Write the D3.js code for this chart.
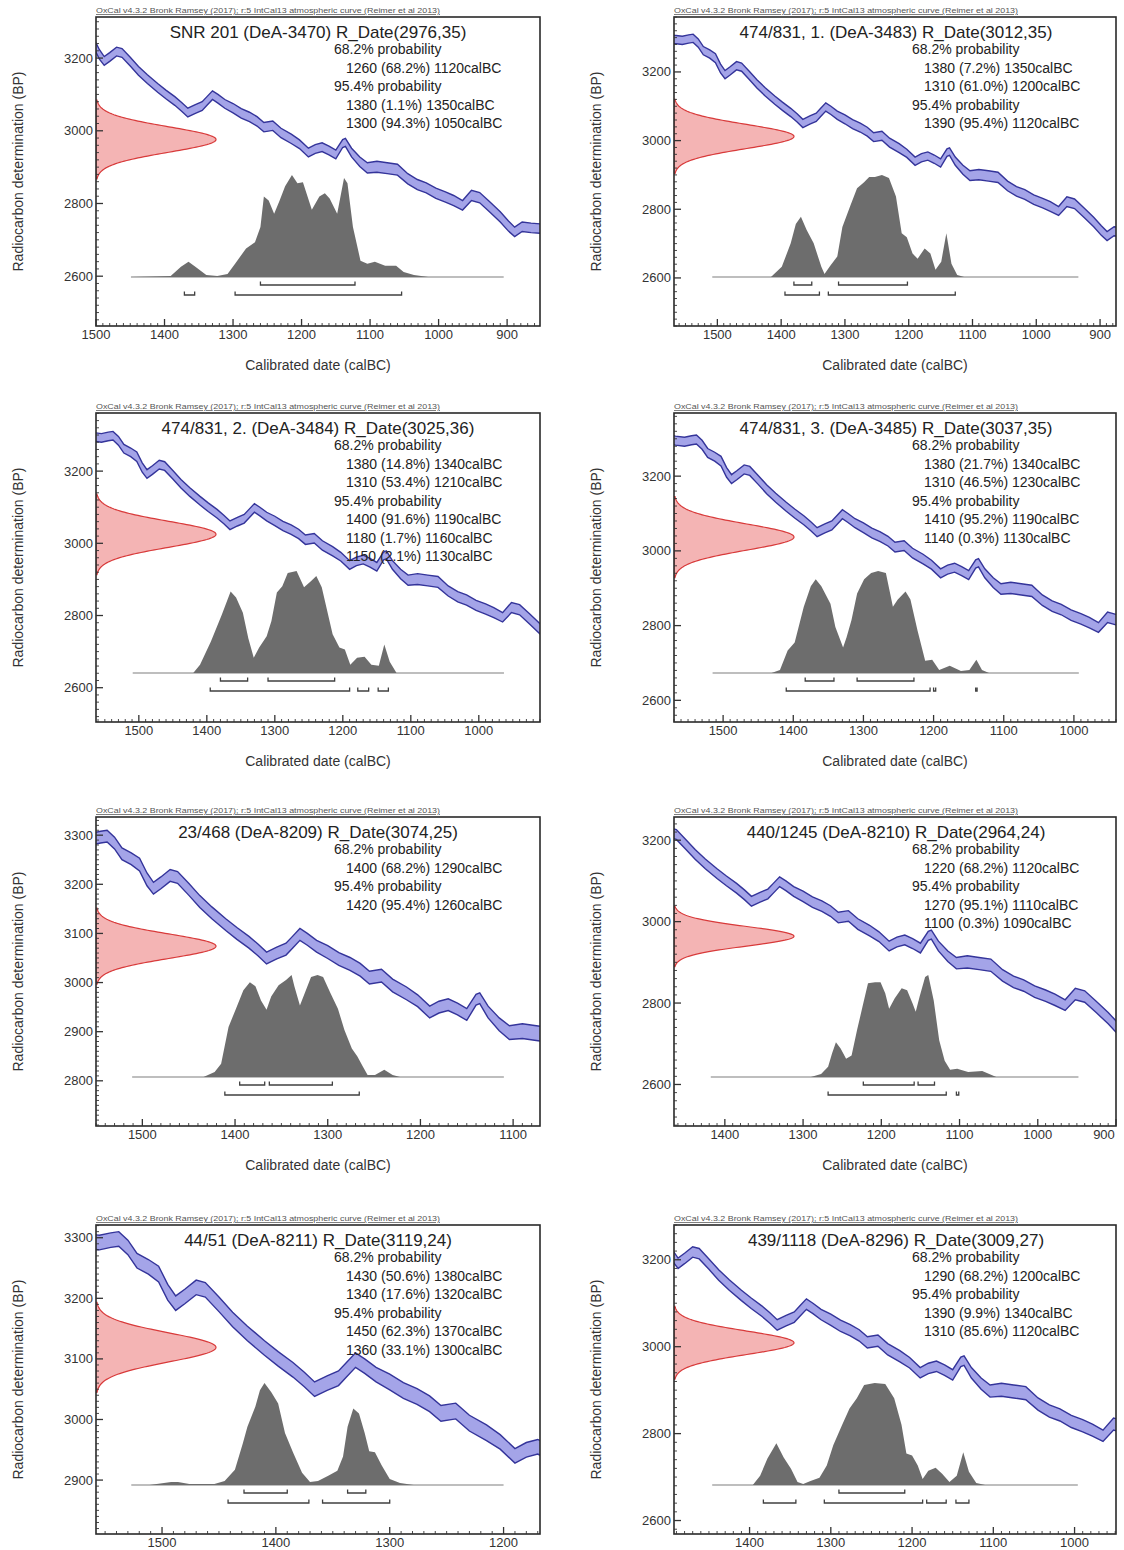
<!DOCTYPE html>
<html><head><meta charset="utf-8">
<script src="https://cdn.jsdelivr.net/npm/d3@7"></script>
<style>
body{margin:0;background:#fff}
svg{display:block}
text{font-family:"Liberation Sans",Arial,Helvetica,sans-serif}
</style>
</head><body>
<svg id="chart" width="1124" height="1550"></svg>
<script>
// ---------- DATA ----------
// Calibration curve (IntCal13): calBC year, BP, 1-sigma
const CURVE_YEARS = [1580,1568,1555,1545,1538,1530,1522,1512,1503,1495,1488,1480,1470,1462,1450,1438,1425,1410,1398,1385,1375,1366,1355,1345,1338,1330,1322,1312,1300,1288,1276,1265,1255,1242,1230,1215,1203,1190,1180,1170,1160,1150,1140,1136,1127,1115,1104,1090,1075,1060,1045,1031,1018,1004,990,978,965,952,940,925,910,898,889,878,865,845];
const CURVE_BP    = [3302,3295,3292,3296,3298,3284,3262,3252,3240,3210,3192,3203,3218,3214,3190,3165,3142,3118,3100,3082,3066,3050,3060,3068,3082,3098,3088,3074,3062,3048,3038,3026,3010,3014,2994,2978,2963,2940,2950,2955,2946,2935,2965,2968,2940,2915,2898,2901,2897,2893,2868,2852,2843,2828,2818,2808,2795,2822,2816,2790,2763,2738,2722,2736,2733,2730];
const CURVE_SIGMA = [12,12,12,12,12,12,12,12,13,13,12,12,12,12,12,12,12,12,12,12,12,12,12,12,12,12,12,12,13,13,13,13,13,13,13,13,12,12,12,12,12,12,11,11,12,13,14,15,15,15,14,14,14,14,14,14,13,14,14,14,14,14,13,13,13,13];

const TITLES = [
  "SNR 201 (DeA-3470) R_Date(2976,35)",
  "474/831, 1. (DeA-3483) R_Date(3012,35)",
  "474/831, 2. (DeA-3484) R_Date(3025,36)",
  "474/831, 3. (DeA-3485) R_Date(3037,35)",
  "23/468 (DeA-8209) R_Date(3074,25)",
  "440/1245 (DeA-8210) R_Date(2964,24)",
  "44/51 (DeA-8211) R_Date(3119,24)",
  "439/1118 (DeA-8296) R_Date(3009,27)"
];
const R_DATES = [[2976,35],[3012,35],[3025,36],[3037,35],[3074,25],[2964,24],[3119,24],[3009,27]];

const PROB_TEXT = [
  ["68.2% probability","1260 (68.2%) 1120calBC","95.4% probability","1380 (1.1%) 1350calBC","1300 (94.3%) 1050calBC"],
  ["68.2% probability","1380 (7.2%) 1350calBC","1310 (61.0%) 1200calBC","95.4% probability","1390 (95.4%) 1120calBC"],
  ["68.2% probability","1380 (14.8%) 1340calBC","1310 (53.4%) 1210calBC","95.4% probability","1400 (91.6%) 1190calBC","1180 (1.7%) 1160calBC","1150 (2.1%) 1130calBC"],
  ["68.2% probability","1380 (21.7%) 1340calBC","1310 (46.5%) 1230calBC","95.4% probability","1410 (95.2%) 1190calBC","1140 (0.3%) 1130calBC"],
  ["68.2% probability","1400 (68.2%) 1290calBC","95.4% probability","1420 (95.4%) 1260calBC"],
  ["68.2% probability","1220 (68.2%) 1120calBC","95.4% probability","1270 (95.1%) 1110calBC","1100 (0.3%) 1090calBC"],
  ["68.2% probability","1430 (50.6%) 1380calBC","1340 (17.6%) 1320calBC","95.4% probability","1450 (62.3%) 1370calBC","1360 (33.1%) 1300calBC"],
  ["68.2% probability","1290 (68.2%) 1200calBC","95.4% probability","1390 (9.9%) 1340calBC","1310 (85.6%) 1120calBC"]
];

const X_DOMAINS = [[1500,852],[1568,875],[1563,910],[1570,940],[1550,1071],[1465,900],[1558,1168],[1493,949]];
const Y_DOMAINS = [[2463,3313],[2460,3360],[2505,3361],[2542,3369],[2708,3337],[2498,3257],[2811,3321],[2569,3280]];
const Y_TICK_STEP = [200,200,200,200,100,200,100,200];
const BASELINE_RANGE = [[1449,905],[1508,934],[1509,963],[1515,993],[1511,1110],[1418,948],[1527,1200],[1446,996]];

// Posterior (calibrated) distributions: [calBC year, relative probability]
const POST_1 = [[1449,0],[1391,0.01],[1376,0.1],[1365,0.15],[1355,0.1],[1339,0.02],[1323,0.01],[1308,0.03],[1297,0.13],[1281,0.28],[1268,0.34],[1260,0.49],[1255,0.79],[1248,0.75],[1240,0.62],[1232,0.75],[1224,0.89],[1214,1.0],[1206,0.92],[1198,0.93],[1185,0.66],[1174,0.79],[1166,0.82],[1159,0.77],[1148,0.62],[1138,0.97],[1133,0.92],[1125,0.49],[1114,0.16],[1104,0.13],[1093,0.15],[1078,0.11],[1062,0.11],[1051,0.05],[1036,0.02],[1015,0]];
const POST_2 = [[1416,0],[1399,0.1],[1385,0.33],[1377,0.52],[1369,0.59],[1360,0.46],[1349,0.33],[1337,0.1],[1332,0.03],[1323,0.11],[1312,0.2],[1304,0.49],[1292,0.69],[1281,0.87],[1270,0.93],[1262,0.98],[1253,0.98],[1242,1.0],[1231,0.97],[1220,0.79],[1211,0.43],[1203,0.39],[1194,0.23],[1186,0.18],[1175,0.28],[1166,0.23],[1158,0.07],[1149,0.15],[1141,0.43],[1133,0.13],[1124,0.02],[1113,0]];
const POST_3 = [[1420,0],[1410,0.08],[1394,0.31],[1378,0.57],[1365,0.8],[1357,0.74],[1347,0.59],[1339,0.34],[1331,0.15],[1323,0.25],[1312,0.36],[1305,0.51],[1297,0.79],[1289,0.85],[1281,0.98],[1268,1.0],[1257,0.84],[1247,0.9],[1239,0.95],[1231,0.84],[1223,0.61],[1215,0.38],[1205,0.25],[1197,0.23],[1189,0.08],[1179,0.15],[1168,0.16],[1158,0.08],[1147,0.07],[1139,0.28],[1131,0.11],[1121,0]];
const POST_4 = [[1431,0],[1419,0.03],[1408,0.22],[1398,0.3],[1385,0.65],[1375,0.85],[1368,0.92],[1360,0.85],[1347,0.68],[1340,0.45],[1329,0.25],[1324,0.35],[1317,0.52],[1309,0.78],[1299,0.92],[1289,0.98],[1279,1.0],[1268,0.98],[1258,0.65],[1251,0.72],[1240,0.8],[1233,0.72],[1223,0.42],[1212,0.12],[1202,0.13],[1192,0.03],[1177,0.07],[1161,0.02],[1149,0.03],[1139,0.13],[1131,0.03],[1121,0]];
const POST_5 = [[1434,0],[1422,0.05],[1415,0.13],[1407,0.49],[1399,0.67],[1391,0.85],[1384,0.93],[1378,0.89],[1372,0.75],[1366,0.66],[1361,0.79],[1353,0.9],[1345,0.95],[1339,1.0],[1336,0.89],[1330,0.7],[1324,0.84],[1318,0.98],[1311,1.0],[1305,0.98],[1297,0.82],[1289,0.67],[1282,0.46],[1274,0.28],[1268,0.2],[1262,0.1],[1257,0.02],[1249,0.02],[1239,0.07],[1230,0.02],[1222,0]];
const POST_6 = [[1290,0],[1277,0.03],[1268,0.1],[1263,0.23],[1258,0.34],[1252,0.28],[1245,0.18],[1238,0.21],[1231,0.46],[1224,0.69],[1217,0.92],[1208,0.93],[1201,0.93],[1195,0.82],[1190,0.67],[1183,0.77],[1174,0.87],[1167,0.85],[1160,0.72],[1156,0.64],[1151,0.79],[1144,0.98],[1140,1.0],[1133,0.75],[1126,0.36],[1119,0.16],[1112,0.07],[1103,0.08],[1089,0.05],[1071,0.06],[1062,0.03],[1053,0]];
const POST_7 = [[1511,0],[1492,0.03],[1486,0.03],[1476,0.01],[1454,0.01],[1445,0.04],[1436,0.15],[1429,0.41],[1425,0.57],[1418,0.77],[1414,0.93],[1410,1.0],[1404,0.91],[1398,0.8],[1392,0.51],[1385,0.32],[1377,0.12],[1370,0.03],[1363,0.04],[1354,0.09],[1346,0.14],[1341,0.28],[1337,0.57],[1332,0.75],[1327,0.7],[1322,0.51],[1318,0.33],[1313,0.32],[1307,0.19],[1300,0.06],[1291,0.02],[1279,0]];
const POST_8 = [[1396,0],[1387,0.09],[1378,0.26],[1367,0.41],[1358,0.27],[1349,0.16],[1341,0.03],[1334,0.01],[1325,0.04],[1314,0.07],[1305,0.19],[1297,0.39],[1286,0.59],[1277,0.75],[1268,0.85],[1259,0.98],[1246,1.0],[1233,0.99],[1222,0.85],[1213,0.59],[1207,0.31],[1200,0.29],[1193,0.19],[1187,0.06],[1180,0.14],[1171,0.17],[1163,0.11],[1154,0.03],[1145,0.09],[1137,0.32],[1130,0.13],[1121,0.02],[1110,0]];
const POSTERIORS = [POST_1,POST_2,POST_3,POST_4,POST_5,POST_6,POST_7,POST_8];

// Range brackets (calBC from, to)
const RANGES_68 = [
  [[1260,1122]],
  [[1380,1352],[1310,1202]],
  [[1380,1340],[1310,1212]],
  [[1383,1342],[1309,1228]],
  [[1395,1368],[1363,1295]],
  [[1223,1158],[1153,1132]],
  [[1428,1390],[1337,1321]],
  [[1290,1209]]
];
const RANGES_95 = [
  [[1371,1356],[1297,1054]],
  [[1394,1340],[1326,1127]],
  [[1395,1190],[1178,1162],[1148,1133]],
  [[1410,1205],[1200,1197],[1140,1138]],
  [[1411,1266]],
  [[1268,1117],[1104,1101]],
  [[1442,1371],[1359,1300]],
  [[1383,1343],[1308,1187],[1182,1158],[1146,1130]]
];

const HEADER = "OxCal v4.3.2 Bronk Ramsey (2017); r:5 IntCal13 atmospheric curve (Reimer et al 2013)";

// ---------- LAYOUT ----------
const COL_X = [96, 674];
const COL_W = [444, 442];
const ROW_Y = [17, 413, 817, 1225];
const ROW_H = 309;

const svg = d3.select("#chart");
svg.append("rect").attr("width",1124).attr("height",1550).attr("fill","#fff");

const curvePts = CURVE_YEARS.map((yr,i)=>({yr, bp:CURVE_BP[i], s:CURVE_SIGMA[i]}));

TITLES.forEach((title, p) => {
  const col = p % 2, row = Math.floor(p / 2);
  const L = COL_X[col], W = COL_W[col], T = ROW_Y[row], H = ROW_H;
  const R = L + W, B = T + H;
  const x = d3.scaleLinear().domain(X_DOMAINS[p]).range([L, R]);
  const y = d3.scaleLinear().domain(Y_DOMAINS[p]).range([B, T]);
  const g = svg.append("g");

  const clipId = "clip" + p;
  g.append("clipPath").attr("id", clipId).append("rect")
    .attr("x", L).attr("y", T).attr("width", W).attr("height", H);
  const plot = g.append("g").attr("clip-path", `url(#${clipId})`);

  // calibration curve band
  plot.append("path").datum(curvePts)
    .attr("d", d3.area().x(d=>x(d.yr)).y0(d=>y(d.bp-d.s)).y1(d=>y(d.bp+d.s)))
    .attr("fill", "#a4a4e8");
  [1,-1].forEach(sg => {
    plot.append("path").datum(curvePts)
      .attr("d", d3.line().x(d=>x(d.yr)).y(d=>y(d.bp+sg*d.s)))
      .attr("fill","none").attr("stroke","#34349a").attr("stroke-width",1.4);
  });

  // radiocarbon date (normal distribution from R_Date mean, sd)
  const [mu, sd] = R_DATES[p];
  const gx = d3.scaleLinear().domain([0,1]).range([L, L + 120]);
  const gPts = d3.range(-3.1, 3.1001, 0.05).map(z => ({bp: mu + z*sd, v: Math.exp(-0.5*z*z)}));
  plot.append("path").datum(gPts)
    .attr("d", d3.area().y(d=>y(d.bp)).x0(gx(0)).x1(d=>gx(d.v)))
    .attr("fill","#f4b4b4").attr("stroke","#d83a3a").attr("stroke-width",1.2);

  // posterior distribution
  const baseY = B - 49;
  const py = d3.scaleLinear().domain([0,1]).range([baseY, baseY - 102]);
  plot.append("line")
    .attr("x1", x(BASELINE_RANGE[p][0])).attr("x2", x(BASELINE_RANGE[p][1]))
    .attr("y1", baseY).attr("y2", baseY)
    .attr("stroke","#a8a8a8").attr("stroke-width",1.5);
  plot.append("path").datum(POSTERIORS[p])
    .attr("d", d3.area().x(d=>x(d[0])).y0(baseY).y1(d=>py(d[1])))
    .attr("fill","#6d6d6d");

  // range brackets
  const drawBr = (ranges, yy) => ranges.forEach(r => {
    const x1 = x(r[0]), x2 = x(r[1]);
    plot.append("path")
      .attr("d", `M${x1},${yy-3.5}V${yy}H${x2}V${yy-3.5}`)
      .attr("fill","none").attr("stroke","#404040").attr("stroke-width",1.3);
  });
  drawBr(RANGES_68[p], baseY + 8);
  drawBr(RANGES_95[p], baseY + 18);

  // frame
  g.append("rect").attr("x",L).attr("y",T).attr("width",W).attr("height",H)
    .attr("fill","none").attr("stroke","#2a2a2a").attr("stroke-width",1.6);

  // x ticks
  const [x0d, x1d] = X_DOMAINS[p];
  for (let yr = Math.ceil(x1d/10)*10; yr <= x0d; yr += 10) {
    const major = yr % 100 === 0;
    const px = x(yr);
    g.append("line").attr("x1",px).attr("x2",px).attr("y1",B).attr("y2",B-(major?7:3))
      .attr("stroke","#333").attr("stroke-width",major?1.3:0.9);
    if (major) {
      g.append("text").attr("x", Math.min(px, R - 12)).attr("y", B + 13)
        .attr("text-anchor","middle").attr("font-size",13).attr("fill","#333").text(yr);
    }
  }
  // y ticks
  const step = Y_TICK_STEP[p], minor = step/10;
  const [y0d, y1d] = Y_DOMAINS[p];
  for (let bp = Math.ceil(y0d/minor)*minor; bp <= y1d; bp += minor) {
    const major = bp % step === 0;
    const py2 = y(bp);
    g.append("line").attr("x1",L).attr("x2",L+(major?7:3)).attr("y1",py2).attr("y2",py2)
      .attr("stroke","#333").attr("stroke-width",major?1.3:0.9);
    if (major) {
      g.append("text").attr("x", L - 3).attr("y", py2).attr("dy","0.35em")
        .attr("text-anchor","end").attr("font-size",13).attr("fill","#333").text(bp);
    }
  }

  // header
  g.append("text").attr("x", L).attr("y", T - 4)
    .attr("font-size",7.5).attr("fill","#555").attr("text-decoration","underline")
    .attr("textLength", 344).attr("lengthAdjust","spacingAndGlyphs").text(HEADER);
  // title
  g.append("text").attr("x", L + 222).attr("y", T + 21)
    .attr("text-anchor","middle").attr("font-size",17).attr("fill","#222").text(title);
  // probability text
  PROB_TEXT[p].forEach((line, i) => {
    const isHead = line.indexOf("probability") >= 0;
    g.append("text").attr("x", L + (isHead ? 238 : 250)).attr("y", T + 37 + i*18.5)
      .attr("font-size",14).attr("fill","#222").text(line);
  });

  // axis titles (the bottom row's x title lies below the page in the reference)
  if (row < 3) {
    g.append("text").attr("x", L + W/2).attr("y", B + 44)
      .attr("text-anchor","middle").attr("font-size",14).attr("fill","#333").text("Calibrated date (calBC)");
  }
  g.append("text").attr("transform", `translate(${L - 73},${T + H/2}) rotate(-90)`)
    .attr("text-anchor","middle").attr("font-size",14).attr("fill","#333").text("Radiocarbon determination (BP)");
});
</script>
</body></html>
